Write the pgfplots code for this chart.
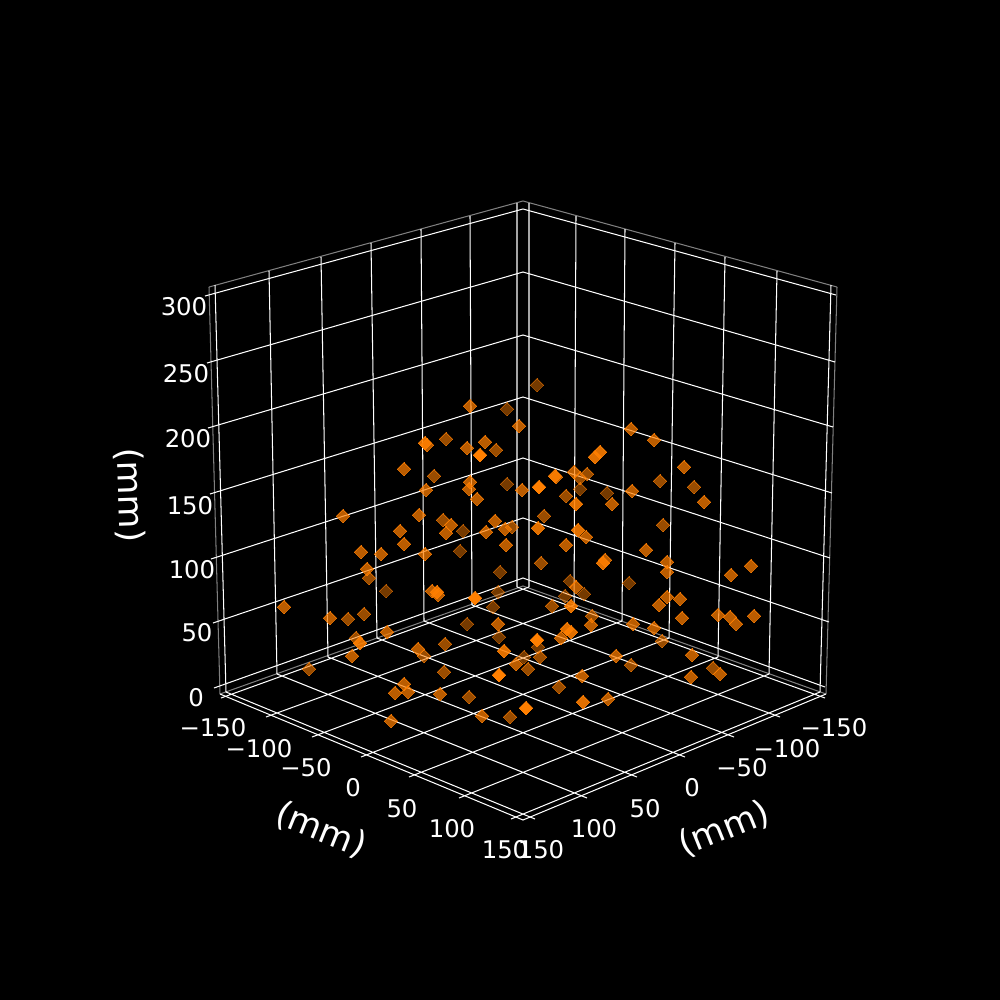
\documentclass[border=0pt]{standalone}
\usepackage{fontspec}
\setmainfont{DejaVu Sans}
\usepackage{pgfplots}
\pgfplotsset{compat=1.18}
\definecolor{dot}{RGB}{255,127,0}
\tikzset{
  gridl/.style={white, line width=0.75pt},
  tl/.style={white, font=\fontsize{17.6}{17.6}\selectfont, anchor=center, inner sep=0pt},
  al/.style={white, font=\fontsize{25}{25}\selectfont, anchor=center, inner sep=0pt},
}
\pgfplotsset{
  pts/.style={only marks, mark=square*, mark size=3.5pt,
    mark options={rotate=45, draw=dot, fill=dot, line width=0pt, opacity=#1}},
}
\begin{document}
\begin{tikzpicture}
\begin{axis}[
  width=10in, height=10in, scale only axis,
  xmin=0, xmax=1000, ymin=0, ymax=1000, y dir=reverse,
  ticks=none, axis line style={draw=none},
  axis background/.style={fill=black},
  unbounded coords=jump,
]
% pane outlines
\addplot[color=white!50!black, line width=0.75pt] coordinates {
  (209,287) (523,201) (837,287) (nan,nan)
  (209,287) (220,694) (nan,nan)
  (837,287) (826,694) (nan,nan)
  (220,694) (523,586) (826,694)
};
% wall grid, verticals
\addplot[gridl] coordinates {
  (215,285) (226,692) (nan,nan) (269,271) (277,674) (nan,nan)
  (321,257) (328,657) (nan,nan) (371,243) (377,638) (nan,nan)
  (421,229) (424,621) (nan,nan) (470,216) (472,605) (nan,nan)
  (517,203) (517,587) (nan,nan)
  (529,203) (529,587) (nan,nan) (576,216) (574,605) (nan,nan)
  (625,229) (622,621) (nan,nan) (675,243) (669,638) (nan,nan)
  (725,257) (718,657) (nan,nan) (777,271) (769,674) (nan,nan)
  (831,285) (820,692)
};
% wall grid, z lines
\addplot[gridl] coordinates {
  (205,296) (523,209) (836,295) (nan,nan)
  (207,363) (523,272) (835,362) (nan,nan)
  (208,428) (523,335) (833,427) (nan,nan)
  (210,494) (523,397) (832,493) (nan,nan)
  (211,559) (523,458) (830,558) (nan,nan)
  (213,623) (523,518) (829,622) (nan,nan)
  (214,688) (523,578) (825,687)
};
% floor grid
\addplot[gridl] coordinates {
  (529,587) (221,698) (nan,nan) (574,605) (266,717) (nan,nan)
  (622,621) (312,737) (nan,nan) (669,638) (361,757) (nan,nan)
  (718,657) (409,777) (nan,nan) (769,674) (459,798) (nan,nan)
  (820,692) (511,819) (nan,nan)
  (517,587) (825,698) (nan,nan) (472,605) (780,717) (nan,nan)
  (424,621) (734,737) (nan,nan) (377,638) (685,757) (nan,nan)
  (328,657) (637,777) (nan,nan) (277,674) (587,798) (nan,nan)
  (226,692) (535,819)
};
% front axis lines
\addplot[gridl] coordinates {(220,694) (523,820) (826,694)};
% points, far ones first
\addplot[pts=0.46] coordinates {
  (537,385) (507,409) (507,484) (463,531) (500,572) (386,591) (493,607) (498,592)
  (467,624) (499,637) (460,551) (524,657) (580,489) (607,493) (570,581) (584,594)
  (565,596) (629,583) (538,647)
};
\addplot[pts=0.6] coordinates {
  (446,439) (496,450) (434,476) (443,520) (512,527) (587,474) (580,478) (660,481)
  (694,487) (566,496) (544,516) (663,525) (369,578) (348,619) (364,614) (356,638)
  (445,644) (424,656) (309,669) (444,672) (528,669) (469,697) (510,717) (541,563)
  (552,606) (592,616) (662,641) (540,657) (631,665) (713,668) (559,687)
};
\addplot[pts=0.73] coordinates {
  (470,406) (519,426) (427,445) (467,448) (485,442) (404,469) (470,482) (469,489)
  (426,490) (522,490) (477,499) (343,516) (419,515) (451,525) (446,533) (495,521)
  (486,532) (505,529) (400,531) (404,544) (506,545) (631,429) (654,440) (684,467)
  (574,472) (556,477) (632,491) (612,504) (704,502) (586,537) (566,545) (646,550)
  (361,552) (381,554) (425,554) (367,569) (284,607) (432,591) (438,595) (330,618)
  (498,624) (387,632) (418,649) (352,656) (516,664) (404,684) (395,693) (408,692)
  (440,694) (482,716) (391,721) (605,560) (667,562) (667,572) (751,566) (731,575)
  (576,587) (667,597) (680,599) (659,605) (682,618) (718,615) (730,617) (736,624)
  (754,616) (591,625) (633,624) (654,628) (561,638) (616,656) (692,655) (720,674)
  (691,677) (582,676) (608,699)
};
\addplot[pts=0.88] coordinates {
  (425,443) (600,452) (595,457) (555,476) (576,504) (538,528) (578,530) (437,592)
  (360,643) (504,651) (603,563) (567,629) (571,632) (571,606) (583,702)
};
\addplot[pts=1] coordinates {
  (480,455) (539,487) (475,598) (499,675) (526,708) (537,640)
};
% z tick labels
\node[tl] at (184,307) {300};
\node[tl] at (186,374) {250};
\node[tl] at (188,439) {200};
\node[tl] at (190,506) {150};
\node[tl] at (192,570) {100};
\node[tl] at (197,633) {50};
\node[tl] at (196,698) {0};
% left floor axis labels
\node[tl] at (213,728) {−150};
\node[tl] at (259,749) {−100};
\node[tl] at (306,768) {−50};
\node[tl] at (353,788) {0};
\node[tl] at (402,809) {50};
\node[tl] at (452,829) {100};
\node[tl] at (505,850) {150};
% right floor axis labels
\node[tl] at (834,728) {−150};
\node[tl] at (787,749) {−100};
\node[tl] at (742,768) {−50};
\node[tl] at (692,788) {0};
\node[tl] at (645,809) {50};
\node[tl] at (594,829) {100};
\node[tl] at (541,850) {150};
% axis titles
\node[al, rotate=-22] at (321,830) {(mm)};
\node[al, rotate=22] at (724,829) {(mm)};
\node[al, rotate=-88] at (129.5,495) {(mm)};
\end{axis}
\end{tikzpicture}
\end{document}
